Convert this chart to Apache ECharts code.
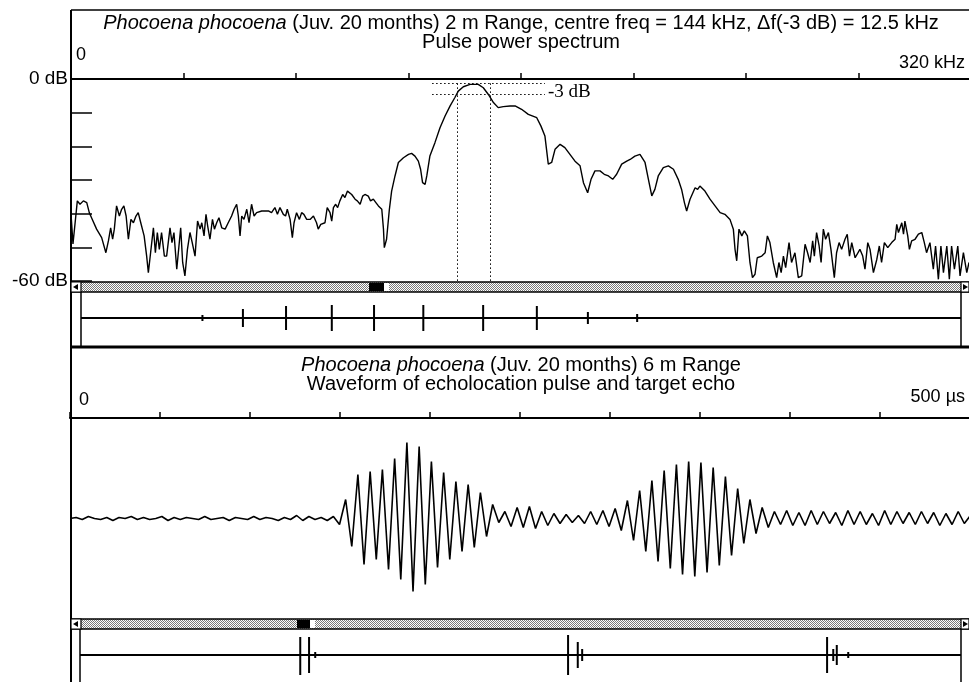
<!DOCTYPE html>
<html><head><meta charset="utf-8">
<script src="https://cdn.jsdelivr.net/npm/echarts@6/dist/echarts.min.js"></script>
<style>html,body{margin:0;padding:0;background:#fff}#c{width:969px;height:682px}</style>
</head><body><div id="c"></div>
<script>
// ---------- DATA ----------
// Pulse power spectrum: [frequency kHz, level dB]
const spectrumPoints = [[0,-40],[0.7,-49],[2.25,-36.2],[3.2,-37.2],[4.4,-36.2],[5.6,-36.7],[6.5,-39.7],[7.3,-41.2],[7.9,-40.7],[9.1,-44.6],[10.9,-47.1],[12.4,-51.6],[13.3,-48.1],[14.1,-44.2],[14.8,-47.6],[15.4,-44.6],[16.2,-37.7],[17.2,-40.7],[18.0,-38.7],[18.8,-37.7],[19.6,-40.7],[20.4,-47.6],[21.3,-41.7],[22.2,-42.7],[23.1,-40.7],[23.9,-39.7],[24.8,-42.7],[26.0,-46.6],[26.9,-52.6],[27.5,-57.5],[28.3,-51.6],[29.3,-44.2],[30.0,-51.6],[30.7,-45.6],[31.4,-50.6],[32.2,-45.6],[33.2,-52.6],[34.0,-52.6],[35.2,-44.2],[35.9,-48.6],[36.6,-45.6],[37.6,-56.5],[39.0,-44.2],[39.7,-54.5],[40.5,-58.5],[41.4,-50.6],[42.3,-45.6],[43.1,-48.6],[44.1,-52.6],[45.0,-42.2],[45.9,-44.6],[46.5,-42.7],[47.3,-46.6],[48.0,-40.2],[48.6,-43.7],[49.4,-47.6],[50.3,-41.7],[51.0,-44.6],[51.8,-42.7],[52.6,-41.2],[53.6,-44.2],[54.8,-44.6],[55.9,-42.7],[57.1,-40.7],[58.0,-38.7],[58.9,-37.2],[59.5,-40.7],[60.1,-46.6],[60.7,-40.7],[61.5,-41.7],[62.5,-38.7],[63.3,-42.7],[64.2,-37.2],[65.1,-40.7],[66.0,-39.7],[67.8,-39.2],[70.2,-39.2],[71.3,-39.7],[72.5,-38.2],[73.4,-40.2],[74.3,-38.2],[75.5,-40.2],[76.3,-40.7],[76.9,-38.7],[77.9,-41.7],[78.7,-47.1],[79.3,-42.7],[80.2,-39.7],[81.2,-41.7],[82.0,-39.7],[82.8,-40.2],[83.8,-41.7],[85.0,-41.7],[86.2,-40.7],[87.3,-42.7],[87.9,-44.6],[88.8,-43.2],[90.3,-42.7],[91.1,-38.2],[92.1,-39.7],[92.7,-42.2],[93.3,-38.2],[94.1,-37.2],[94.8,-38.2],[95.6,-36.2],[96.6,-34.3],[97.4,-35.2],[98.3,-33.3],[99.0,-32.8],[99.8,-34.3],[101.0,-35.7],[101.8,-36.2],[102.8,-37.2],[103.7,-34.8],[104.5,-34.3],[105.7,-34.8],[106.5,-36.2],[107.5,-35.7],[108.4,-36.7],[109.3,-37.7],[110.5,-38.7],[111.1,-44.6],[111.4,-50.1],[112.2,-47.6],[113.2,-38.7],[114.0,-33.3],[115.2,-28.8],[116.4,-24.8],[118.2,-23.4],[120.0,-22.4],[121.1,-22.1],[122.3,-22.9],[123.5,-24.4],[124.3,-26.8],[125.0,-30.8],[125.9,-31.3],[126.5,-28.8],[127.6,-22.9],[129.4,-18.9],[131.2,-14.5],[133.0,-11.0],[134.8,-8.0],[136.5,-5.5],[137.7,-3.6],[139.5,-2.3],[141.9,-1.6],[144.8,-1.6],[146.6,-2.6],[148.4,-4.6],[150.2,-7.0],[151.9,-8.5],[153.7,-8.2],[156.1,-8.0],[157.9,-8.0],[160.2,-9.0],[162.6,-10.5],[165.6,-11.5],[167.1,-14.0],[168.5,-16.9],[169.7,-25.3],[170.9,-24.8],[172.1,-20.9],[173.9,-19.4],[175.6,-20.4],[177.4,-22.4],[179.2,-24.4],[181.0,-25.8],[182.2,-30.8],[183.7,-33.8],[184.9,-29.8],[186.3,-27.3],[188.1,-27.3],[189.6,-28.3],[191.1,-28.8],[192.6,-29.8],[194.0,-28.3],[195.8,-25.3],[197.6,-24.4],[198.8,-23.9],[200.5,-22.9],[202.3,-22.4],[204.1,-24.8],[205.3,-29.8],[206.5,-34.7],[207.6,-32.8],[208.8,-28.8],[210.6,-26.3],[212.4,-25.8],[214.2,-26.8],[215.9,-29.8],[217.1,-32.8],[218.1,-36.7],[218.9,-39.2],[220.1,-35.7],[221.9,-32.3],[222.8,-32.8],[223.6,-31.8],[225.4,-33.3],[227.2,-35.7],[229.0,-37.7],[230.8,-39.7],[232.5,-40.2],[234.3,-41.7],[235.5,-44.6],[236.1,-50.6],[236.7,-54.0],[237.5,-44.6],[238.5,-46.6],[239.4,-45.1],[240.5,-46.6],[241.4,-54.5],[242.3,-59.0],[243.2,-58.0],[244.0,-53.1],[245.6,-52.6],[246.8,-51.6],[247.6,-46.6],[248.5,-48.6],[249.7,-54.5],[250.9,-59.0],[251.7,-54.5],[252.5,-57.5],[253.3,-52.6],[254.1,-56.0],[255.3,-48.6],[256.2,-54.5],[257.4,-51.6],[258.6,-59.0],[259.8,-58.5],[261.0,-49.1],[261.9,-51.6],[262.8,-54.5],[263.7,-48.1],[264.3,-52.6],[265.1,-45.6],[266.0,-49.6],[266.7,-54.5],[267.5,-44.6],[268.3,-47.6],[269.3,-45.6],[270.2,-50.6],[271.4,-59.0],[272.2,-51.6],[273.1,-48.6],[274.0,-50.6],[275.2,-47.6],[276.0,-46.1],[276.8,-52.6],[277.6,-48.6],[278.8,-53.1],[280.5,-50.6],[281.5,-52.6],[282.3,-56.5],[283.3,-48.6],[284.1,-50.6],[285.3,-57.5],[286.5,-53.6],[287.4,-49.6],[288.2,-54.5],[289.2,-48.6],[290.4,-50.1],[291.8,-48.6],[293.0,-47.6],[293.6,-43.2],[294.2,-45.6],[295.4,-42.7],[296.0,-46.1],[296.5,-42.2],[297.5,-46.6],[298.1,-50.6],[298.9,-48.1],[300.1,-47.6],[301.3,-46.1],[302.5,-45.6],[303.4,-48.6],[304.2,-51.6],[305.4,-48.6],[306.6,-56.5],[307.4,-49.6],[308.4,-59.5],[309.3,-49.6],[310.2,-57.5],[311.4,-49.6],[312.3,-59.5],[313.1,-49.6],[314.1,-56.5],[315.3,-49.6],[316.1,-58.5],[317.3,-51.6],[318.5,-57.5],[319.3,-54.5]];

// -3 dB bandwidth annotation (kHz, dB)
const peakLevelDb = -1.3;
const minus3LevelDb = -4.5;
const guideFromKHz = 128.4, guideToKHz = 168.5;
const bandLowKHz = 137.3, bandHighKHz = 149.2;

// Waveform: amplitude (relative units) sampled every waveSampleUs microseconds
const waveSampleUs = 3.403;
const waveAmp = [0,1,-1,2,0,-1,1,-2,1,0,2,-1,1,-1,0,2,-2,1,-1,1,0,-1,2,-1,0,1,-2,1,0,-1,2,-1,1,0,-2,1,-1,3,-2,2,-1,1,-2,2,
  -6,19,-28,44,-46,47,-41,49,-51,60,-61,76,-73,72,-66,57,-49,46,-41,37,-33,34,-29,26,-18,14,-4,7,-8,11,-9,12,-10,7,-7,5,-5,4,-4,3,-5,7,-6,8,-8,
  10,-12,18,-22,28,-33,38,-43,48,-50,54,-56,57,-58,56,-54,51,-47,42,-37,30,-25,19,-15,11,-9,
  7,-6,8,-7,6,-7,8,-6,7,-5,6,-7,8,-6,7,-6,5,-7,8,-6,7,-5,6,-6,7,-5,6,-7,5,-6,7,-5,3];

// Record overview strips: spike position (% of record), up / down extent
const ovTopPos  = [4.4, 9.3, 13.8, 18.4, 23.3, 28.5, 33.3, 38.9, 45.7, 51.8, 57.6, 63.2, 77.6, 81.9, 85.6, 89.2, 97.8];
const ovTopUp   = [2, 2, 3, 9, 12, 13, 13, 13, 13, 12, 6, 4, 2, 2, 2, 2, 2];
const ovTopDown = [2, 2, 3, 9, 12, 13, 13, 13, 13, 12, 6, 4, 2, 2, 2, 2, 2];
const ovBotPos  = [25.0, 26.0, 26.7, 33.5, 55.4, 56.5, 57.0, 57.9, 84.8, 85.5, 85.9, 87.2];
const ovBotUp   = [18, 18, 3, 1, 20, 13, 6, 2, 18, 6, 10, 3];
const ovBotDown = [20, 18, 3, 1, 20, 13, 6, 2, 18, 6, 10, 3];

// ---------- CHART ----------
const FONT = '"Liberation Sans", Arial, Helvetica, sans-serif';
const chart = echarts.init(document.getElementById('c'), null, {renderer: 'canvas'});

function spikes(pos, up, down) {
  const d = [[0, 0]];
  pos.forEach((p, i) => { d.push([p, 0], [p, up[i]], [p, -down[i]], [p, 0]); });
  d.push([100, 0]);
  return d;
}

const pc = document.createElement('canvas'); pc.width = 2; pc.height = 2;
const pg = pc.getContext('2d');
pg.fillStyle = '#ffffff'; pg.fillRect(0, 0, 2, 2);
pg.fillStyle = '#7a7a7a'; pg.fillRect(0, 0, 1, 1); pg.fillRect(1, 1, 1, 1);
const pattern = {image: pc, repeat: 'repeat'};

function scrollbar(y, thumbX, thumbW) {
  return [
    {type: 'rect', shape: {x: 71, y: y, width: 898, height: 10}, style: {fill: pattern, stroke: '#000', lineWidth: 1.5}, z: 10},
    {type: 'rect', shape: {x: 71, y: y, width: 10, height: 10}, style: {fill: '#fff', stroke: '#000', lineWidth: 1.2}, z: 11},
    {type: 'polygon', shape: {points: [[73, y + 5], [78, y + 2], [78, y + 8]]}, style: {fill: '#000'}, z: 12},
    {type: 'rect', shape: {x: 961, y: y, width: 8, height: 10}, style: {fill: '#fff', stroke: '#000', lineWidth: 1.2}, z: 11},
    {type: 'polygon', shape: {points: [[968, y + 5], [963, y + 2], [963, y + 8]]}, style: {fill: '#000'}, z: 12},
    {type: 'rect', shape: {x: thumbX, y: y + 1, width: thumbW + 5, height: 8}, style: {fill: '#fff'}, z: 11},
    {type: 'rect', shape: {x: thumbX, y: y + 1, width: thumbW, height: 8}, style: {fill: '#000'}, z: 12}
  ];
}
function vline(x, y1, y2, w) {
  return {type: 'line', shape: {x1: x, y1: y1, x2: x, y2: y2}, style: {stroke: '#000', lineWidth: w}, z: 10};
}
function hline(y, x1, x2, w) {
  return {type: 'line', shape: {x1: x1, y1: y, x2: x2, y2: y}, style: {stroke: '#000', lineWidth: w}, z: 10};
}
function titleText(y, text) {
  return {type: 'text', x: 521, y: y, z: 10, style: {
    text: text, fill: '#000', font: '20px ' + FONT, align: 'center', verticalAlign: 'middle',
    rich: {i: {fontStyle: 'italic', fontSize: 20, fontFamily: FONT, fill: '#000'}}
  }};
}

const axisBlack = {show: true, onZero: false, lineStyle: {color: '#000', width: 2}};

const option = {
  animation: false,
  backgroundColor: '#fff',
  grid: [
    {left: 71, top: 79, width: 900, height: 202, containLabel: false, outerBoundsMode: 'none'},
    {left: 81, top: 293, width: 880, height: 50, containLabel: false, outerBoundsMode: 'none'},
    {left: 70, top: 418, width: 900, height: 201, containLabel: false, outerBoundsMode: 'none'},
    {left: 80, top: 630, width: 881, height: 50, containLabel: false, outerBoundsMode: 'none'}
  ],
  xAxis: [
    {type: 'value', gridIndex: 0, position: 'top', min: 0, max: 320, interval: 40,
      axisLine: axisBlack, splitLine: {show: false},
      axisTick: {show: true, inside: false, length: 6, lineStyle: {color: '#000', width: 1.5}},
      axisLabel: {show: true, margin: 2, alignMinLabel: 'left', alignMaxLabel: 'right', color: '#000',
        formatter: v => v === 0 ? '{a|0}' : (v === 320 ? '{b|320 kHz}' : ''),
        rich: {a: {fontSize: 18, fontFamily: FONT, color: '#000', padding: [0, 0, 13, 5]},
               b: {fontSize: 18, fontFamily: FONT, color: '#000', padding: [0, 6, 5, 0]}}}},
    {type: 'value', gridIndex: 1, min: 0, max: 100, show: false},
    {type: 'value', gridIndex: 2, position: 'top', min: 0, max: 500, interval: 50,
      axisLine: axisBlack, splitLine: {show: false},
      axisTick: {show: true, inside: false, length: 6, lineStyle: {color: '#000', width: 1.5}},
      axisLabel: {show: true, margin: 2, alignMinLabel: 'left', alignMaxLabel: 'right', color: '#000',
        formatter: v => v === 0 ? '{a|0}' : (v === 500 ? '{b|500 µs}' : ''),
        rich: {a: {fontSize: 18, fontFamily: FONT, color: '#000', padding: [0, 0, 7, 9]},
               b: {fontSize: 18, fontFamily: FONT, color: '#000', padding: [0, 5, 10, 0]}}}},
    {type: 'value', gridIndex: 3, min: 0, max: 100, show: false}
  ],
  yAxis: [
    {type: 'value', gridIndex: 0, min: -60, max: 0, interval: 10,
      axisLine: axisBlack, splitLine: {show: false},
      axisTick: {show: true, inside: true, length: 21, lineStyle: {color: '#000', width: 1.5}},
      axisLabel: {show: true, margin: 3, color: '#000', fontSize: 19, fontFamily: FONT,
        formatter: v => v === 0 ? '0 dB' : (v === -60 ? '-60 dB' : '')}},
    {type: 'value', gridIndex: 1, min: -25, max: 25, show: false},
    {type: 'value', gridIndex: 2, min: -100.5, max: 100.5, show: false},
    {type: 'value', gridIndex: 3, min: -25, max: 25, show: false}
  ],
  series: [
    {type: 'line', xAxisIndex: 0, yAxisIndex: 0, data: spectrumPoints, showSymbol: false, symbol: 'none',
      lineStyle: {color: '#000', width: 1.4}, clip: false, silent: true,
      markLine: {silent: true, symbol: 'none', animation: false,
        lineStyle: {color: '#000', width: 1, type: [1.5, 2.5]},
        label: {show: false},
        data: [
          [{coord: [guideFromKHz, peakLevelDb]}, {coord: [guideToKHz, peakLevelDb]}],
          [{coord: [guideFromKHz, minus3LevelDb], label: {show: true, position: 'end', formatter: '-3 dB', color: '#000',
              fontFamily: '"Liberation Serif", "Times New Roman", serif', fontSize: 19, distance: 3, offset: [0, -2]}},
           {coord: [guideToKHz, minus3LevelDb]}],
          [{coord: [bandLowKHz, peakLevelDb]}, {coord: [bandLowKHz, -60]}],
          [{coord: [bandHighKHz, peakLevelDb]}, {coord: [bandHighKHz, -60]}]
        ]}},
    {type: 'line', xAxisIndex: 1, yAxisIndex: 1, data: spikes(ovTopPos, ovTopUp, ovTopDown), showSymbol: false, symbol: 'none',
      lineStyle: {color: '#000', width: 2}, silent: true},
    {type: 'line', xAxisIndex: 2, yAxisIndex: 2, data: waveAmp.map((v, i) => [i * waveSampleUs, v]), showSymbol: false, symbol: 'none',
      lineStyle: {color: '#000', width: 1.6}, silent: true},
    {type: 'line', xAxisIndex: 3, yAxisIndex: 3, data: spikes(ovBotPos, ovBotUp, ovBotDown), showSymbol: false, symbol: 'none',
      lineStyle: {color: '#000', width: 2}, silent: true}
  ],
  graphic: [].concat(
    [vline(71, 10, 682, 2), hline(10, 71, 969, 1.5), hline(347, 71, 969, 3),
     vline(81, 292, 347, 1.5), vline(961, 292, 347, 1.5), vline(80, 629, 682, 1.5), vline(961, 629, 682, 1.5)],
    scrollbar(282, 369, 15),
    scrollbar(619, 297, 13),
    [titleText(23, '{i|Phocoena phocoena} (Juv. 20 months) 2 m Range, centre freq = 144 kHz, \u0394f(-3 dB) = 12.5 kHz'),
     titleText(42, 'Pulse power spectrum'),
     titleText(365, '{i|Phocoena phocoena} (Juv. 20 months) 6 m Range'),
     titleText(384, 'Waveform of echolocation pulse and target echo')]
  )
};
chart.setOption(option);
</script>
</body></html>
